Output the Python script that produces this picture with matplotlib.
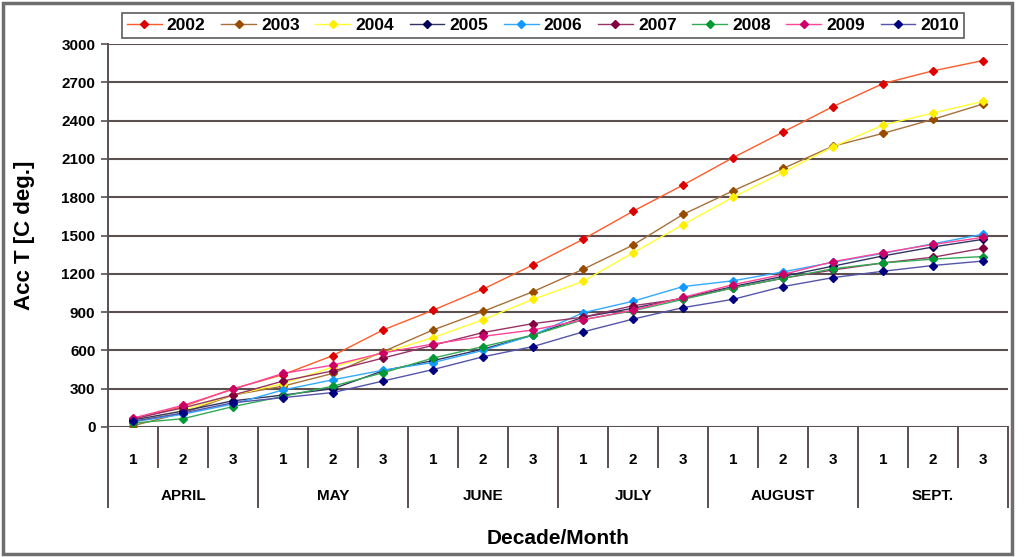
import matplotlib
matplotlib.use("Agg")
import matplotlib.pyplot as plt
from matplotlib.patches import Rectangle
import matplotlib.transforms as mtransforms

plt.rcParams['font.family'] = ['Liberation Sans', 'DejaVu Sans']

decades = ['1', '2', '3'] * 6
months = ['APRIL', 'MAY', 'JUNE', 'JULY', 'AUGUST', 'SEPT.']
years = ['2002', '2003', '2004', '2005', '2006', '2007', '2008', '2009', '2010']

y2002 = [60, 160, 300, 410, 560, 760, 915, 1080, 1270, 1470, 1690, 1895, 2110, 2310, 2510, 2690, 2790, 2870]
y2003 = [10, 110, 250, 320, 420, 590, 760, 905, 1060, 1235, 1425, 1665, 1850, 2025, 2200, 2300, 2410, 2530]
y2004 = [40, 130, 250, 340, 470, 580, 700, 840, 1000, 1140, 1365, 1585, 1800, 1995, 2195, 2365, 2460, 2550]
y2005 = [55, 125, 205, 250, 300, 440, 520, 610, 720, 860, 930, 1010, 1100, 1180, 1260, 1340, 1410, 1470]
y2006 = [40, 100, 180, 290, 370, 445, 505, 600, 720, 895, 985, 1100, 1145, 1215, 1290, 1360, 1435, 1510]
y2007 = [65, 150, 250, 360, 440, 540, 640, 740, 810, 860, 950, 1005, 1090, 1165, 1230, 1285, 1330, 1400]
y2008 = [30, 65, 160, 240, 320, 425, 540, 630, 720, 840, 910, 1000, 1090, 1165, 1240, 1285, 1315, 1335]
y2009 = [70, 170, 295, 420, 485, 580, 650, 710, 760, 840, 915, 1015, 1115, 1195, 1295, 1365, 1430, 1485]
y2010 = [45, 110, 190, 230, 270, 360, 450, 550, 630, 745, 845, 935, 1000, 1100, 1170, 1220, 1265, 1300]

series = [y2002, y2003, y2004, y2005, y2006, y2007, y2008, y2009, y2010]
line_colors = ['#ff5a2a', '#a8703a', '#ffff33', '#333366', '#33aaff', '#993366', '#33aa55', '#ff4499', '#5555aa']
mark_colors = ['#dd0000', '#994c00', '#ffee00', '#000055', '#1199ff', '#800040', '#009933', '#cc0066', '#000080']

fig = plt.figure(figsize=(10.24, 5.57), dpi=100)
# outer frame
fig.patches.append(Rectangle((3 / 1024, 3 / 557), 1009 / 1024, 551 / 557, transform=fig.transFigure,
                             fill=False, edgecolor='#6e6e6e', linewidth=2.5))

ax = fig.add_axes([108 / 1024, 130 / 557, 900 / 1024, 383 / 557])
x = list(range(len(decades)))
for yr, vals, lc, mc in zip(years, series, line_colors, mark_colors):
    ax.plot(x, vals, color=lc, linewidth=1.0, marker='D', markersize=4.5,
            markerfacecolor=mc, markeredgecolor=mc, label=yr)

ax.set_xlim(-0.5, len(decades) - 0.5)
ax.set_ylim(0, 3000)
ax.set_yticks(range(0, 3001, 300))
ax.yaxis.grid(True, color='#5a5050', linewidth=1.5)
ax.set_axisbelow(True)
for s in ['top', 'right', 'bottom']:
    ax.spines[s].set_visible(False)
ax.spines['left'].set_color('#5a5050')
ax.spines['left'].set_linewidth(1.4)
ax.tick_params(axis='y', length=5, width=1.2, color='#5a5050', labelsize=11, pad=4)
for lab in ax.get_yticklabels():
    lab.set_fontweight('bold')

ax.set_xticks(x)
ax.set_xticklabels(decades, fontsize=11, fontweight='bold')
ax.tick_params(axis='x', length=0, pad=19)

# category separators below the axis
trans = mtransforms.blended_transform_factory(ax.transData, ax.transAxes)
for i in range(len(decades) + 1):
    major = i % 3 == 0
    ax.plot([i - 0.5, i - 0.5], [0, -0.209 if major else -0.104], color='#5a5050',
            linewidth=1.4, transform=trans, clip_on=False)
for m, name in enumerate(months):
    ax.text(3 * m + 1, -0.18, name, transform=trans, ha='center', va='center',
            fontsize=11, fontweight='bold')

ax.set_xlabel('Decade/Month', fontsize=15, fontweight='bold', labelpad=44)
ax.set_ylabel('Acc T [C deg.]', fontsize=16, fontweight='bold', labelpad=19)

leg = fig.legend(loc='upper left', bbox_to_anchor=(113 / 1024, 1 - 4 / 557), ncol=9,
                 frameon=True, fancybox=False, fontsize=12.5, handlelength=2.0,
                 handletextpad=0.3, columnspacing=0.9, borderpad=0.3)
leg.get_frame().set_edgecolor('#333333')
leg.get_frame().set_linewidth(1.2)
for t in leg.get_texts():
    t.set_fontweight('bold')

fig.savefig('out.png', dpi=100)
